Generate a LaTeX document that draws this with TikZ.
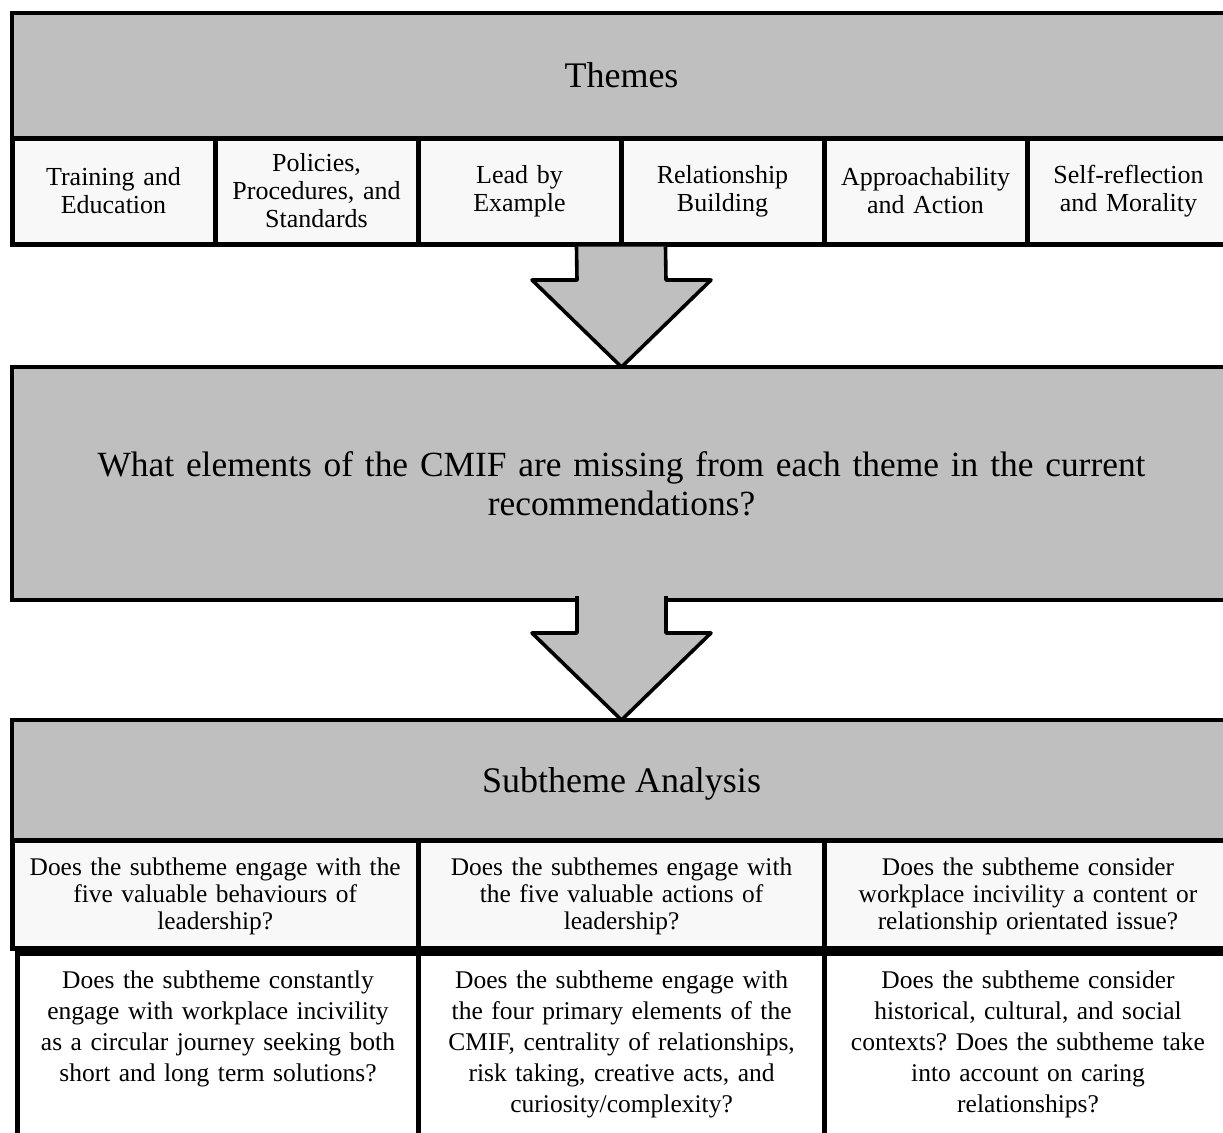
\documentclass[tikz,border=0pt]{standalone}
\usepackage{fontspec}
\setmainfont{Liberation Serif}
\usepackage{xcolor}
\usepackage{tikz}
\usetikzlibrary{positioning,calc}
\definecolor{headgray}{RGB}{191,191,191}
\definecolor{cellwhite}{RGB}{248,248,248}
\newcommand{\downblock}[2]{%
    \filldraw[blockarrow] ($(#1)+(-44.5,0)$) -- ($(#2)+(-44.5,-87)$) -- ($(#2)+(-89.5,-87)$) -- (#2)
        -- ($(#2)+(89.5,-87)$) -- ($(#2)+(44.5,-87)$) -- ($(#1)+(44.5,0)$);
}

\begin{document}
\frenchspacing
\begin{tikzpicture}[
    x=0.5pt, y=-0.5pt,
    outer sep=0pt,
    head/.style={rectangle, draw=black, fill=headgray, line width=2pt, minimum width=609.5pt, anchor=north west, font=\fontsize{18}{21}\selectfont},
    theme/.style={rectangle, draw=black, fill=cellwhite, line width=2.5pt, text width=92pt, align=center, minimum width=101.5pt, minimum height=53pt, font=\fontsize{13}{14}\selectfont},
    ask/.style={theme, text width=190pt, minimum width=203.2pt, minimum height=54pt, text depth=27pt, font=\fontsize{12.7}{13.5}\selectfont},
    probe/.style={rectangle, draw=black, fill=white, line width=2.5pt, text width=190pt, align=center, minimum width=203.2pt, inner ysep=9pt, text depth=110pt, anchor=north west, font=\fontsize{12.75}{15.5}\selectfont},
    blockarrow/.style={fill=headgray, draw=black, line width=1.8pt, line join=round}
]
    \useasboundingbox (0,0) rectangle (1223,1132);
    \fill[white] (0,0) rectangle (1223,1132);
    \clip (0,0) rectangle (1223,1132);

    \node[head, minimum height=62.5pt] (themes) at (12,13) {Themes};
    \node[theme, below right=0pt and 0pt of themes.south west] (training) {Training and\\Education};
    \node[theme, right=0pt of training] (policies) {Policies,\\Procedures, and\\Standards};
    \node[theme, right=0pt of policies] (lead) {Lead by\\Example};
    \node[theme, right=0pt of lead] (relation) {Relationship\\Building};
    \node[theme, right=0pt of relation] (approach) {Approachability\\and Action};
    \node[theme, right=0pt of approach] (reflect) {Self-reflection\\and Morality};

    \node[head, minimum height=116.5pt, text width=570pt, align=center, font=\fontsize{17.7}{19.5}\selectfont, below right=61.5pt and 0pt of training.south west] (missing) {What elements of the CMIF are missing from each theme in the current\\recommendations?};

    \node[head, minimum height=60pt, text depth=-4pt, below right=60pt and 0pt of missing.south west] (subtheme) {Subtheme Analysis};
    \node[ask, below right=0pt and 0pt of subtheme.south west] (behaviours) {Does the subtheme engage with the\\five valuable behaviours of\\leadership?};
    \node[ask, right=0pt of behaviours] (actions) {Does the subthemes engage with\\the five valuable actions of\\leadership?};
    \node[ask, right=0pt of actions] (content) {Does the subtheme consider\\workplace incivility a content or\\relationship orientated issue?};

    \node[probe, minimum width=201pt, below right=2.5pt and 2.5pt of behaviours.south west] (journey) {Does the subtheme constantly\\engage with workplace incivility\\as a circular journey seeking both\\short and long term solutions?};
    \node[probe, below right=2.5pt and 0pt of actions.south west] (elements) {Does the subtheme engage with\\the four primary elements of the\\CMIF, centrality of relationships,\\risk taking, creative acts, and\\curiosity/complexity?};
    \node[probe, below right=2.5pt and 0pt of content.south west] (contexts) {Does the subtheme consider\\historical, cultural, and social\\contexts? Does the subtheme take\\into account on caring\\relationships?};

    \coordinate (from1) at ($(lead.south east)+(0,2.5)$);
    \coordinate (from2) at ($(missing.south)+(0,-4)$);
    \downblock{from1}{missing.north}
    \downblock{from2}{subtheme.north}
\end{tikzpicture}
\end{document}
